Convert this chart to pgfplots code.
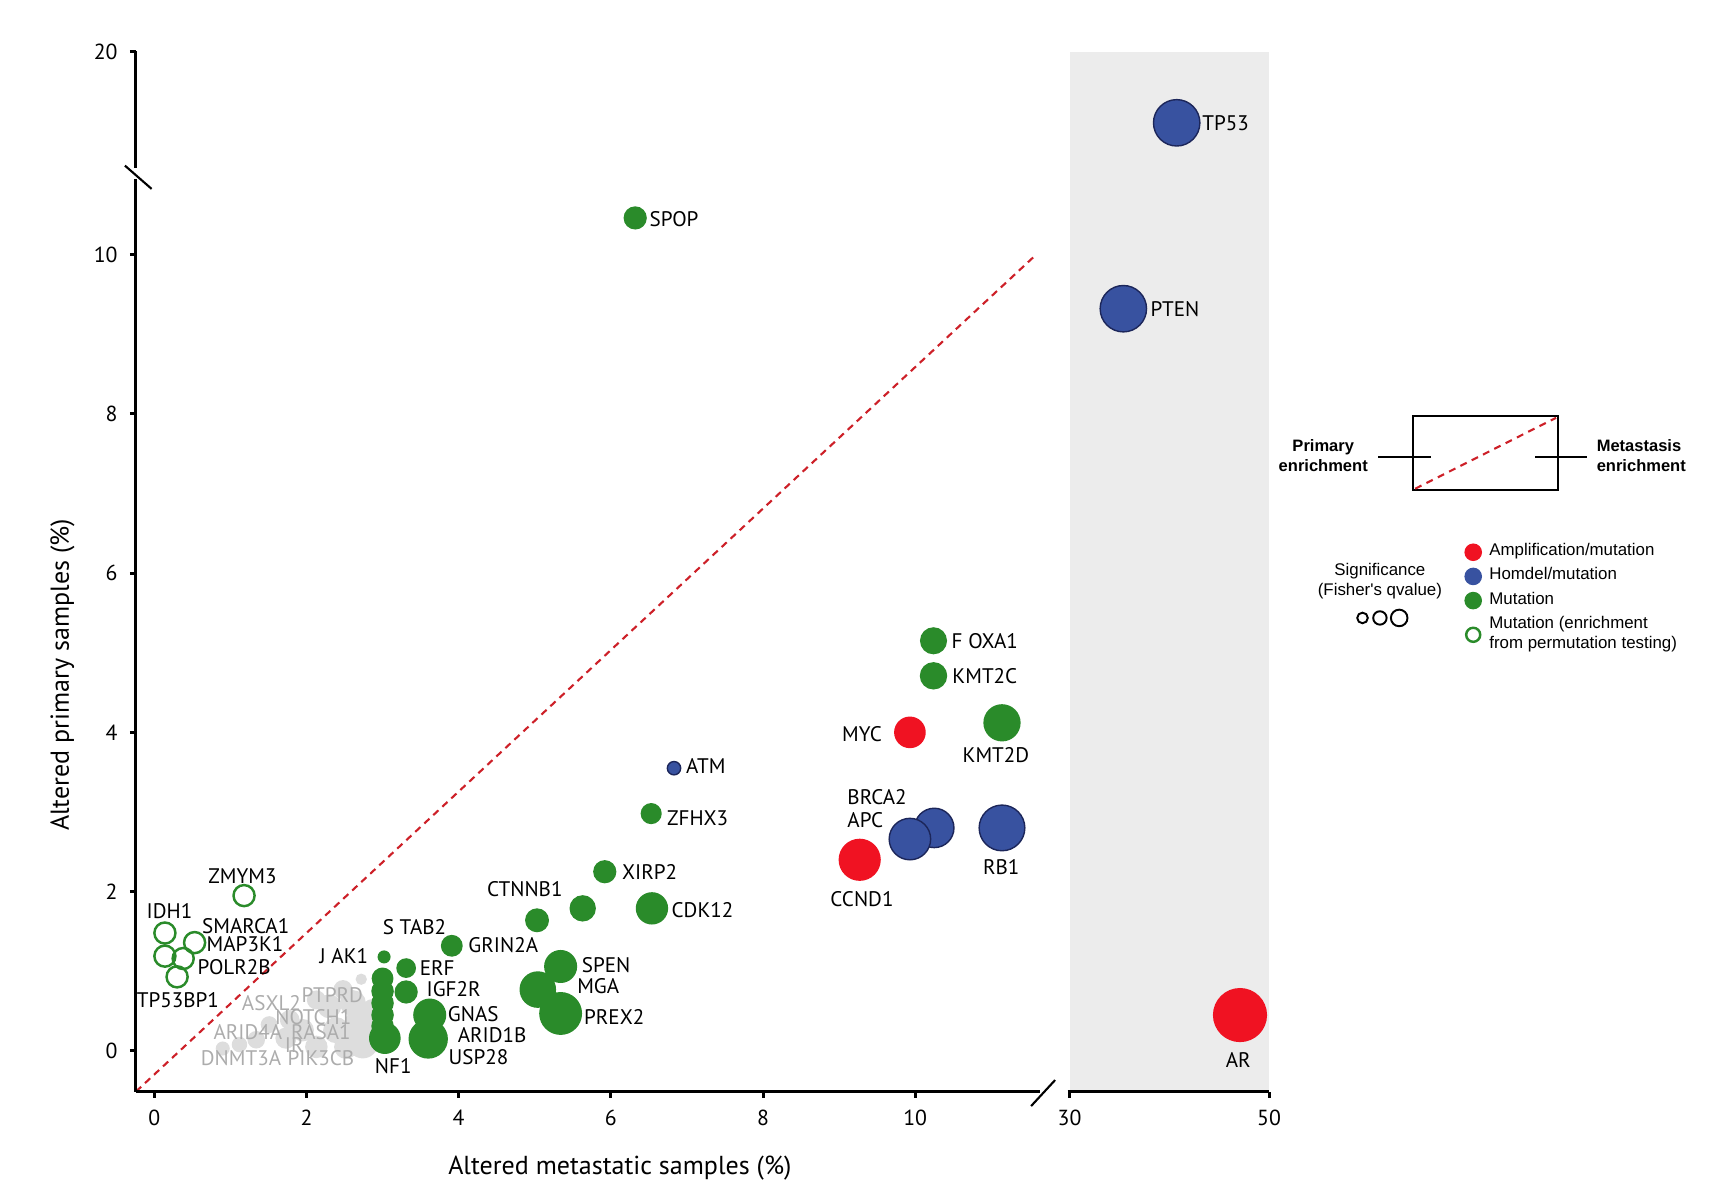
\documentclass[border=0pt]{standalone}
\usepackage{pgfplots}
\usepackage{pgfplotstable}
\pgfplotsset{compat=1.18}
\usepackage{fontspec}
\setmainfont{PT Sans}
\newfontfamily\legfont{Liberation Sans}

\definecolor{cgreen}{RGB}{42,139,42}
\definecolor{cblue}{RGB}{56,82,160}
\definecolor{cblueline}{RGB}{28,38,90}
\definecolor{cred}{RGB}{240,18,34}
\definecolor{cgrey}{RGB}{221,221,221}
\definecolor{cgreytxt}{RGB}{172,172,172}
\definecolor{cpanel}{RGB}{236,236,236}
\definecolor{cdash}{RGB}{205,32,40}

% x = altered metastatic (%), y = altered primary (%), r = bubble radius (pt)
\pgfplotstableread{
x y r
0.90 0.03 1.8
1.12 0.08 2.0
1.34 0.14 2.3
1.51 0.33 2.2
1.73 0.16 2.8
1.78 0.39 2.6
1.95 0.26 3.0
2.13 0.05 3.0
2.13 0.64 2.5
2.30 0.56 3.2
2.39 0.26 3.5
2.48 0.77 2.5
2.52 0.05 3.2
2.61 0.60 3.5
2.70 0.35 4.0
2.74 0.10 4.2
2.70 0.22 4.6
2.85 0.22 3.5
2.87 0.51 3.0
2.72 0.90 1.4
}\greydata

\pgfplotstableread{
x y r
6.32 10.46 3.1
10.24 5.15 3.65
10.24 4.71 3.7
11.14 4.12 5.1
6.53 2.98 2.8
5.92 2.25 3.1
6.54 1.79 4.4
5.63 1.79 3.55
5.03 1.64 3.2
3.91 1.32 2.9
3.02 1.18 1.65
3.31 1.04 2.6
3.31 0.74 3.1
5.04 0.77 5.0
5.34 1.06 4.5
5.34 0.47 5.9
3.62 0.45 4.5
3.60 0.15 5.4
3.00 0.91 2.9
3.00 0.75 3.0
3.00 0.60 3.0
3.00 0.45 3.0
3.00 0.31 3.0
3.03 0.16 4.3
}\greenfilled

\pgfplotstableread{
x y r
1.18 1.95 3.0
0.14 1.48 3.0
0.53 1.36 3.0
0.14 1.19 3.0
0.38 1.16 3.0
0.30 0.93 3.0
}\greenopen

\pgfplotstableread{
x y r
6.83 3.55 1.9
10.25 2.80 5.6
9.93 2.66 5.9
11.14 2.80 6.5
}\bluedata

\pgfplotstableread{
x y r
9.93 4.00 4.3
9.27 2.40 5.8
}\reddata

\pgfplotstableread{
x y r
40.74 14.8 6.6
35.39 9.32 6.6
}\bluemet

\pgfplotstableread{
x y r
47.09 0.45 7.5
}\redmet

\pgfplotsset{
  bub/.style={scatter, only marks, mark=*,
    scatter/use mapped color={#1},
    visualization depends on={\thisrow{r}\as\rr},
    scatter/@pre marker code/.append style={/tikz/mark size=\rr}},
  brk/.style={y coord trafo/.code={\pgfmathparse{min(##1,11)+max(##1-11,0)*0.1722}}},
  common/.style={
    brk, scale only axis, height=10.40cm, ymin=-0.51, ymax=20,
    axis x line*=bottom, axis y line*=left,
    axis line style={draw=none},
    tick align=outside, major tick length=0.06cm,
    tick style={black, line width=0.85pt},
    ticklabel style={font=\fontsize{6.2}{7}\selectfont},
    /pgf/number format/assume math mode=true,
    clip=false,
  },
}
\tikzset{lab/.style={inner sep=0pt, font=\fontsize{6}{7}\selectfont},
         glab/.style={lab, text=cgreytxt}}

\begin{document}
\begin{tikzpicture}
\useasboundingbox (0,0) rectangle (17.2cm,11.88cm);

% ---------- main panel ----------
\begin{axis}[common,
  at={(1.36cm,0.965cm)}, anchor=south west, width=9.01cm,
  xmin=-0.24, xmax=11.6,
  xtick={0,2,4,6,8,10}, xticklabels={0,2,4,6,8,10},
  ytick={0,2,4,6,8,10,20}, yticklabels={0,2,4,6,8,10,20},
  xlabel={Altered metastatic samples (\%)},
  ylabel={Altered primary samples (\%)},
  every axis x label/.style={at={(axis description cs:0.537,-0.0736)}, anchor=center, font=\fontsize{7.4}{9}\selectfont},
  every axis y label/.style={at={(axis description cs:-0.0816,0.4005)}, anchor=center, rotate=90, font=\fontsize{7.4}{9}\selectfont},
]
\addplot[bub={draw=cgrey, fill=cgrey}] table {\greydata};

\addplot[cdash, dash pattern=on 2pt off 1.5pt, line width=0.6pt] coordinates {(-0.24,-0.51) (11.59,10)};

\addplot[bub={draw=cgreen, fill=cgreen}] table {\greenfilled};
\addplot[bub={draw=cgreen, fill=none}, mark=o, mark options={line width=0.7pt}] table {\greenopen};
\addplot[bub={draw=cblueline, fill=cblue}, mark options={line width=0.4pt}] table {\bluedata};
\addplot[bub={draw=cred, fill=cred}] table {\reddata};

% anchor points for the grey labels (set after the axis, above the grey bubbles)
\coordinate (gPTPRD) at (axis cs:2.34,0.70);
\coordinate (gASXL2) at (axis cs:1.54,0.60);
\coordinate (gNOTCH1) at (axis cs:2.09,0.43);
\coordinate (gARID4A) at (axis cs:1.23,0.24);
\coordinate (gRASA1) at (axis cs:2.19,0.24);
\coordinate (gIR) at (axis cs:1.84,0.07);
\coordinate (gDNMT3A) at (axis cs:1.14,-0.09);
\coordinate (gPIK3CB) at (axis cs:2.19,-0.09);

\node[lab, anchor=west] at (axis cs:6.50,10.44) {SPOP};
\node[lab, anchor=west] at (axis cs:10.47,5.15) {F OXA1};
\node[lab, anchor=west] at (axis cs:10.48,4.71) {KMT2C};
\node[lab, anchor=east] at (axis cs:9.57,3.98) {MYC};
\node[lab] at (axis cs:11.06,3.72) {KMT2D};
\node[lab, anchor=west] at (axis cs:6.98,3.58) {ATM};
\node[lab, anchor=west] at (axis cs:6.73,2.92) {ZFHX3};
\node[lab, anchor=west] at (axis cs:9.10,3.19) {BRCA2};
\node[lab, anchor=west] at (axis cs:9.10,2.90) {APC};
\node[lab] at (axis cs:11.13,2.31) {RB1};
\node[lab] at (axis cs:9.30,1.90) {CCND1};
\node[lab, anchor=west] at (axis cs:6.14,2.25) {XIRP2};
\node[lab, anchor=west] at (axis cs:6.79,1.77) {CDK12};
\node[lab] at (axis cs:4.87,2.03) {CTNNB1};
\node[lab] at (axis cs:3.42,1.55) {S TAB2};
\node[lab, anchor=west] at (axis cs:4.12,1.33) {GRIN2A};
\node[lab, anchor=east] at (axis cs:2.82,1.19) {J AK1};
\node[lab, anchor=west] at (axis cs:3.48,1.04) {ERF};
\node[lab, anchor=west] at (axis cs:3.57,0.77) {IGF2R};
\node[lab, anchor=west] at (axis cs:3.85,0.46) {GNAS};
\node[lab, anchor=west] at (axis cs:3.98,0.20) {ARID1B};
\node[lab, anchor=west] at (axis cs:3.86,-0.08) {USP28};
\node[lab] at (axis cs:3.14,-0.19) {NF1};
\node[lab, anchor=west] at (axis cs:5.61,1.08) {SPEN};
\node[lab, anchor=west] at (axis cs:5.55,0.81) {MGA};
\node[lab, anchor=west] at (axis cs:5.64,0.43) {PREX2};
\node[lab] at (axis cs:1.16,2.19) {ZMYM3};
\node[lab] at (axis cs:0.20,1.75) {IDH1};
\node[lab, anchor=west] at (axis cs:0.62,1.57) {SMARCA1};
\node[lab, anchor=west] at (axis cs:0.68,1.34) {MAP3K1};
\node[lab, anchor=west] at (axis cs:0.56,1.05) {POLR2B};
\node[lab] at (axis cs:0.31,0.64) {TP53BP1};
\end{axis}

\node[glab] at (gPTPRD) {PTPRD};
\node[glab] at (gASXL2) {ASXL2};
\node[glab] at (gNOTCH1) {NOTCH1};
\node[glab] at (gARID4A) {ARID4A};
\node[glab] at (gRASA1) {RASA1};
\node[glab] at (gIR) {IR};
\node[glab] at (gDNMT3A) {DNMT3A};
\node[glab] at (gPIK3CB) {PIK3CB};

% ---------- metastasis-only panel ----------
\begin{axis}[common,
  at={(10.696cm,0.965cm)}, anchor=south west, width=1.994cm,
  xmin=30, xmax=50,
  axis background/.style={fill=cpanel},
  xtick={30,50}, xticklabels={30,50}, ytick=\empty,
  legend image code/.code={\draw[#1] plot coordinates {(0cm,0cm)};},
  legend style={at={(1.980,0.5303)}, anchor=north west, draw=none, fill=none,
    inner sep=0pt, font=\legfont\fontsize{4.8}{5.7}\selectfont,
    cells={anchor=west, align=left}, row sep=0.3pt, nodes={inner sep=0.8pt},
    /tikz/every odd column/.append style={column sep=1.5pt}},
]
\addlegendimage{only marks, mark=*, mark size=2.3pt, draw=cred, fill=cred}
\addlegendentry{Amplification/mutation}
\addlegendimage{only marks, mark=*, mark size=2.3pt, draw=cblue, fill=cblue}
\addlegendentry{Homdel/mutation}
\addlegendimage{only marks, mark=*, mark size=2.3pt, draw=cgreen, fill=cgreen}
\addlegendentry{Mutation}
\addlegendimage{only marks, mark=o, mark size=2.0pt, draw=cgreen, line width=0.7pt}
\addlegendentry{Mutation (enrichment\\from permutation testing)}

\addplot[bub={draw=cblueline, fill=cblue}, mark options={line width=0.4pt}] table {\bluemet};
\addplot[bub={draw=cred, fill=cred}] table {\redmet};
\node[lab, anchor=west] at (axis cs:43.25,14.8) {TP53};
\node[lab, anchor=west] at (axis cs:38.06,9.32) {PTEN};
\node[lab] at (axis cs:46.92,-0.11) {AR};
\end{axis}

% ---------- axis lines, breaks and key (pixel frame of the 1720x1188 figure) ----------
\begin{scope}[yshift=11.88cm, x=0.01cm, y=-0.01cm]
\draw[line width=0.85pt] (136,1092) -- (1041,1092);
\draw[line width=0.85pt] (136,1092.4) -- (136,179);
\draw[line width=0.85pt] (136,168) -- (136,51.2);
\draw[line width=0.6pt] (125,165.7) -- (151.7,189);
\draw[line width=0.6pt] (1031.7,1106.7) -- (1055.7,1080.7);
\draw[line width=0.85pt] (1068.3,1092) -- (1269.3,1092);

\draw[line width=0.6pt] (1414,416) rectangle (1559,490.7);
\draw[cdash, dash pattern=on 2pt off 1.6pt, line width=0.6pt] (1416,489) -- (1557,418);
\draw[line width=0.5pt] (1379,457.3) -- (1431.7,457.3);
\draw[line width=0.5pt] (1536,457.3) -- (1588.3,457.3);
\node[font=\legfont\bfseries\fontsize{4.7}{5.7}\selectfont, align=center, inner sep=0pt] at (1324,456) {Primary\\enrichment};
\node[font=\legfont\bfseries\fontsize{4.7}{5.7}\selectfont, align=left, anchor=west, inner sep=0pt] at (1597,456) {Metastasis\\enrichment};
\node[font=\legfont\fontsize{4.8}{5.7}\selectfont, align=center, inner sep=0pt] at (1380.7,581) {Significance\\(Fisher's qvalue)};
\node[circle, draw, line width=0.55pt, inner sep=0pt, minimum size=0.106cm] at (1363.3,618.3) {};
\node[circle, draw, line width=0.55pt, inner sep=0pt, minimum size=0.134cm] at (1380.7,618.3) {};
\node[circle, draw, line width=0.55pt, inner sep=0pt, minimum size=0.166cm] at (1400,618.3) {};
\end{scope}
\end{tikzpicture}
\end{document}
